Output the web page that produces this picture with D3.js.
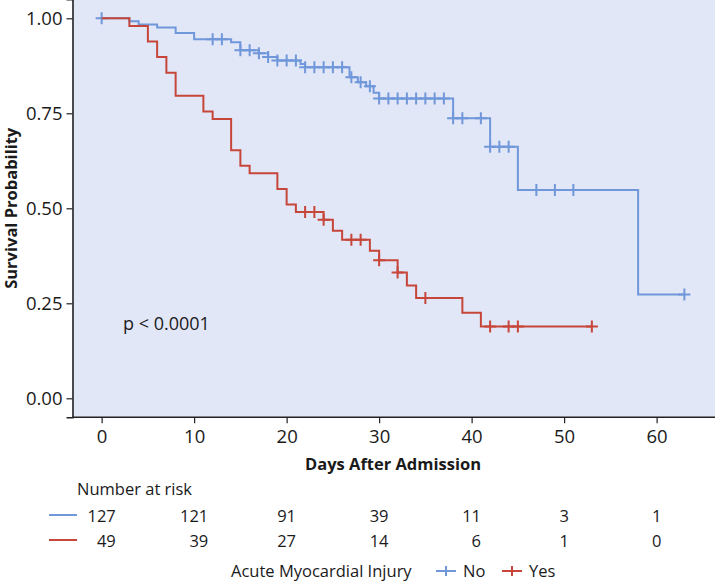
<!DOCTYPE html>
<html>
<head>
<meta charset="utf-8">
<script src="https://cdn.jsdelivr.net/npm/d3@7"></script>
<style>
  body { margin: 0; background: #fff; }
  text { font-family: "Open Sans", "Noto Sans", sans-serif; fill: #1a1a1a; }
</style>
</head>
<body>
<div id="chart"></div>
<script>
// Kaplan-Meier steps
var noTimes = [0, 3, 4, 6, 8, 10, 14, 15, 17, 18, 19, 21.5, 22, 26.8, 27.7, 28.6, 29.4, 30, 38, 42, 45, 58, 63];
var noSurv  = [1, 0.992, 0.984, 0.976, 0.961, 0.945, 0.937, 0.916, 0.908, 0.898, 0.889, 0.880, 0.871, 0.845, 0.832, 0.821, 0.804, 0.789, 0.737, 0.662, 0.548, 0.273, 0.273];
var noCensor = [0, 12, 13, 15, 16, 17, 18, 19, 20, 21, 22, 23, 24, 25, 26, 27, 28, 29, 30, 31, 32, 33, 34, 35, 36, 37, 38, 39, 41, 42, 43, 44, 47, 49, 51, 63];

var yesTimes = [0, 3, 5, 6, 7, 8, 11, 12, 14, 15, 16, 19, 20, 21, 24, 25, 26, 29, 30, 32, 33, 34, 39, 41, 53];
var yesSurv  = [1, 0.980, 0.939, 0.898, 0.857, 0.796, 0.755, 0.735, 0.653, 0.612, 0.592, 0.551, 0.510, 0.490, 0.470, 0.441, 0.417, 0.388, 0.363, 0.331, 0.297, 0.264, 0.225, 0.189, 0.189];
var yesCensor = [22, 23, 24, 27, 28, 30, 32, 35, 42, 44, 45, 53];

var riskTimes = [0, 10, 20, 30, 40, 50, 60];
var riskNo  = [127, 121, 91, 39, 11, 3, 1];
var riskYes = [49, 39, 27, 14, 6, 1, 0];

var yTicks = [0, 0.25, 0.5, 0.75, 1];
var xTicks = [0, 10, 20, 30, 40, 50, 60];

var blue = "#6f97da", red = "#c6463a";

var width = 715, height = 582;
var svg = d3.select("#chart").append("svg")
    .attr("width", width)
    .attr("height", height);

var x = d3.scaleLinear().domain([-3.15, 66.15]).range([72.5, 713.5]);
var y = d3.scaleLinear().domain([-0.05, 1.05]).range([417.3, -0.7]);

// panel
svg.append("rect")
    .attr("x", x(-3.15)).attr("y", 0)
    .attr("width", width - x(-3.15)).attr("height", y(-0.05))
    .attr("fill", "#e2e7f7");

// axes
var yAxis = svg.append("g")
    .attr("transform", "translate(" + x(-3.15) + ",0)")
    .call(d3.axisLeft(y).tickValues(yTicks).tickFormat(d3.format(".2f")).tickSize(6).tickPadding(4));
var xAxis = svg.append("g")
    .attr("transform", "translate(0," + y(-0.05) + ")")
    .call(d3.axisBottom(x).tickValues(xTicks).tickSize(6).tickPadding(7));
[xAxis, yAxis].forEach(function(a) {
  a.select(".domain").attr("stroke", "#222").attr("stroke-width", 1.6);
  a.selectAll(".tick line").attr("stroke", "#222").attr("stroke-width", 1.2);
  a.selectAll(".tick text").attr("font-size", 18.5).attr("fill", "#1a1a1a")
    .style("font-family", '"Open Sans", sans-serif');
});
xAxis.select(".domain").attr("d", "M" + x(-3.15) + ",0H" + width);

svg.append("text")
    .attr("x", (x(-3.15) + x(66.15)) / 2).attr("y", 470)
    .attr("text-anchor", "middle").attr("font-size", 16.5).attr("font-weight", "bold")
    .text("Days After Admission");
svg.append("text")
    .attr("transform", "translate(17," + y(0.5) + ") rotate(-90)")
    .attr("text-anchor", "middle").attr("font-size", 16.5).attr("font-weight", "bold")
    .text("Survival Probability");

// curves
var line = d3.line().curve(d3.curveStepAfter)
    .x(function(d) { return x(d[0]); })
    .y(function(d) { return y(d[1]); });

function survAt(times, surv, t) {
  var s = surv[0];
  for (var i = 0; i < times.length; i++) if (times[i] <= t) s = surv[i];
  return s;
}

function drawCurve(times, surv, censor, color) {
  var g = svg.append("g");
  g.append("path")
      .datum(d3.zip(times, surv))
      .attr("d", line)
      .attr("fill", "none").attr("stroke", color).attr("stroke-width", 2);
  g.selectAll("path.cens")
      .data(censor)
      .enter().append("path")
      .attr("class", "cens")
      .attr("d", function(t) {
        var cx = x(t), cy = y(survAt(times, surv, t));
        return "M" + (cx - 6) + "," + cy + "H" + (cx + 6) + "M" + cx + "," + (cy - 6) + "V" + (cy + 6);
      })
      .attr("stroke", color).attr("stroke-width", 2);
}
drawCurve(noTimes, noSurv, noCensor, blue);
drawCurve(yesTimes, yesSurv, yesCensor, red);

svg.append("text")
    .attr("x", 123).attr("y", 330)
    .attr("font-size", 18)
    .text("p < 0.0001");

// number at risk table
svg.append("text")
    .attr("x", 77).attr("y", 495)
    .attr("font-size", 16.5)
    .text("Number at risk");

[[riskNo, blue, 521.5], [riskYes, red, 546.5]].forEach(function(r) {
  svg.append("line")
      .attr("x1", 49).attr("x2", 77)
      .attr("y1", r[2] - 6.5).attr("y2", r[2] - 6.5)
      .attr("stroke", r[1]).attr("stroke-width", 2);
});
var row1 = svg.selectAll("text.r1")
    .data(riskTimes)
    .enter().append("text")
    .attr("class", "r1")
    .attr("x", function(t) { return x(t); })
    .attr("y", 521.5)
    .attr("text-anchor", "middle")
    .attr("font-size", 16.5)
    .text(function(t, i) { return riskNo[i]; });
var rightEdge = [];
row1.each(function(t, i) { rightEdge[i] = x(t) + this.getComputedTextLength() / 2; });
svg.selectAll("text.r2")
    .data(riskTimes)
    .enter().append("text")
    .attr("class", "r2")
    .attr("x", function(t, i) { return rightEdge[i]; })
    .attr("y", 546.5)
    .attr("text-anchor", "end")
    .attr("font-size", 16.5)
    .text(function(t, i) { return riskYes[i]; });

// legend
var lg = svg.append("g");
lg.append("text").attr("x", 231).attr("y", 577).attr("font-size", 16.5).text("Acute Myocardial Injury");
[[blue, "No", 436, 463], [red, "Yes", 502, 529]].forEach(function(d) {
  var cx = d[2] + 10, cy = 571;
  lg.append("path")
      .attr("d", "M" + d[2] + "," + cy + "H" + (d[2] + 20) + "M" + cx + "," + (cy - 5) + "V" + (cy + 5))
      .attr("stroke", d[0]).attr("stroke-width", 2);
  lg.append("text").attr("x", d[3]).attr("y", 577).attr("font-size", 16.5).text(d[1]);
});
</script>
</body>
</html>
